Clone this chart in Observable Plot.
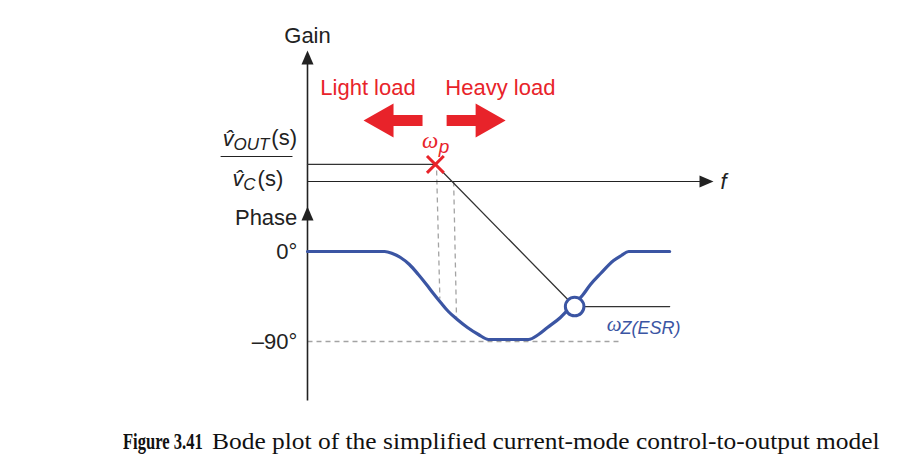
<!DOCTYPE html>
<html><head><meta charset="utf-8">
<script src="https://cdn.jsdelivr.net/npm/d3@7"></script>
<script src="https://cdn.jsdelivr.net/npm/@observablehq/plot@0.6"></script>
<style>
body{margin:0;background:#fff;}
#caption{position:relative;width:915px;height:58px;font-family:"Liberation Serif","Times New Roman",serif;font-size:24px;color:#111;}
#caption span{position:absolute;top:0;line-height:52px;white-space:nowrap;display:inline-block;transform-origin:0 50%;}
#fig{left:123px;font-weight:bold;transform:scaleX(0.69);}
#cap{left:212px;transform:scaleX(1.06);}
</style></head><body>
<div id="chart"></div>
<div id="caption"><span id="fig">Figure 3.41</span><span id="cap">Bode plot of the simplified current-mode control-to-output model</span></div>
<script>
// ---- data (x in decades of log frequency, phase in degrees, gain in dB) ----
const phaseLogF = [0, 1.90, 2.09, 2.29, 2.51, 2.73, 2.93, 3.10, 3.28, 3.47, 3.69, 3.94, 4.21, 4.46,
                   5.44, 5.69, 5.91, 6.23, 6.40, 6.58, 6.77, 6.97, 7.22, 7.54, 7.73, 7.91, 8.92];
const phaseDeg  = [0, 0, -2, -6, -13, -23, -33, -42, -51, -60, -68, -76, -83, -88,
                   -88, -83, -76, -66, -59, -52, -44, -33, -22, -9, -4, 0, 0];
const gainLogF = [0, 3.15, 6.58, 8.92];
const gainDb   = [8.4, 8.4, -61.6, -61.6];
const poleLogF = 3.15;            // omega_p
const zeroLogF = 6.58;            // omega_Z(ESR)
const dashLogF = [[3.18, 3.26], [3.60, 3.67]];
const dashGainDb = [5.4, 0];
const dashPhaseDeg = [-47, -66];
const tickValues = [0, -90];
const tickLabels = ["0°", "–90°"];

// ---- mapping of gain (dB) into the shared vertical units ----
const GAIN_ZERO = 70, UNITS_PER_DB = 2.03;
const g = db => GAIN_ZERO + db * UNITS_PER_DB;

const RED = "#e8232a", BLUE = "#3b55a3", GREY = "#a3a3a3", INK = "#222";

const phase = phaseLogF.map((x, i) => ({x, y: phaseDeg[i]}));
const gain = gainLogF.map((x, i) => ({x, y: g(gainDb[i])}));
const dashes = dashLogF.map((d, i) => ({x1: d[0], x2: d[1], y1: g(dashGainDb[i]), y2: dashPhaseDeg[i]}));
const ticks = tickValues.map((v, i) => ({y: v, t: tickLabels[i]}));

const blockArrow = {draw(c){c.moveTo(0,0);c.lineTo(17,30);c.lineTo(5.5,30);c.lineTo(5.5,59);c.lineTo(-5.5,59);c.lineTo(-5.5,30);c.lineTo(-17,30);c.closePath();}};
const axisHead = {draw(c){c.moveTo(0,0);c.lineTo(6,14);c.lineTo(-6,14);c.closePath();}};

const sans = "Liberation Sans, Arial, Helvetica, sans-serif";
const serif = "Liberation Serif, Times New Roman, serif";

const plot = Plot.plot({
  width: 915, height: 415,
  marginLeft: 307, marginRight: 202, marginTop: 50, marginBottom: 15,
  x: {domain: [0, 10], axis: null},
  y: {domain: [-149, 201], axis: null},
  style: {fontFamily: sans, background: "#fff", overflow: "visible"},
  marks: [
    // -90 dashed reference
    Plot.link([{x1: 0, x2: 7.71, y: -90}], {x1: "x1", x2: "x2", y1: "y", y2: "y", stroke: GREY, strokeWidth: 1.3, strokeDasharray: "5,4"}),
    // dashed projections
    Plot.link(dashes, {x1: "x1", x2: "x2", y1: "y1", y2: "y2", stroke: GREY, strokeWidth: 1.3, strokeDasharray: "5,4"}),
    // axes
    Plot.link([{x: 0, y1: -149, y2: 190}], {x1: "x", x2: "x", y1: "y1", y2: "y2", stroke: INK, strokeWidth: 1.6}),
    Plot.link([{x1: 0, x2: 9.7, y: g(0)}], {x1: "x1", x2: "x2", y1: "y", y2: "y", stroke: INK, strokeWidth: 1.2}),
    Plot.dot([{x: 0, y: 201}], {x: "x", y: "y", symbol: axisHead, fill: INK, stroke: "none"}),
    Plot.dot([{x: 0, y: 45}], {x: "x", y: "y", symbol: axisHead, fill: INK, stroke: "none"}),
    Plot.dot([{x: 10, y: g(0)}], {x: "x", y: "y", symbol: axisHead, rotate: 90, fill: INK, stroke: "none"}),
    // gain asymptote
    Plot.line(gain, {x: "x", y: "y", stroke: "#333", strokeWidth: 1.3}),
    // phase
    Plot.line(phase, {x: "x", y: "y", stroke: BLUE, strokeWidth: 3.2, curve: "monotone-x"}),
    // zero circle
    Plot.dot([{x: zeroLogF, y: g(gainDb[2])}], {x: "x", y: "y", r: 9.3, stroke: BLUE, strokeWidth: 3, fill: "#fff"}),
    // pole cross
    Plot.dot([{x: poleLogF, y: g(gainDb[1])}], {x: "x", y: "y", symbol: "times", r: 7.7, stroke: RED, strokeWidth: 3}),
    // load arrows
    Plot.dot([{x: 1.38, y: 131}], {x: "x", y: "y", symbol: blockArrow, rotate: -90, fill: RED, stroke: "none"}),
    Plot.dot([{x: 4.88, y: 131}], {x: "x", y: "y", symbol: blockArrow, rotate: 90, fill: RED, stroke: "none"}),
    // texts
    Plot.text([{x: 0, y: 216, t: "Gain"}], {x: "x", y: "y", text: "t", fontSize: 22, fill: INK}),
    Plot.text([{x: -0.25, y: 34, t: "Phase"}], {x: "x", y: "y", text: "t", fontSize: 22, fill: INK, textAnchor: "end"}),
    Plot.text(ticks, {x: () => -0.25, y: "y", text: "t", fontSize: 22, fill: INK, textAnchor: "end"}),
    Plot.text([{x: 10.17, y: g(0), t: "f"}], {x: "x", y: "y", text: "t", fontSize: 22, fontStyle: "italic", fill: INK, textAnchor: "start"}),
    Plot.text([{x: 1.49, y: 164, t: "Light load"}, {x: 4.75, y: 164, t: "Heavy load"}], {x: "x", y: "y", text: "t", fontSize: 22, fill: RED}),
    Plot.text([{x: 3.02, y: 111, t: "ω"}], {x: "x", y: "y", text: "t", fontSize: 23, fontStyle: "italic", fontFamily: serif, fill: RED}),
    Plot.text([{x: 3.36, y: 105, t: "p"}], {x: "x", y: "y", text: "t", fontSize: 19, fontStyle: "italic", fill: RED}),
    Plot.text([{x: 7.37, y: -73, t: "ω"}], {x: "x", y: "y", text: "t", fontSize: 21, fontStyle: "italic", fontFamily: serif, fill: BLUE, textAnchor: "start"}),
    Plot.text([{x: 7.71, y: -77, t: "Z(ESR)"}], {x: "x", y: "y", text: "t", fontSize: 18, fontStyle: "italic", fill: BLUE, textAnchor: "start"}),
    // transfer function label
    Plot.text([{x: -2.09, y: 113, t: "v\u0302"}, {x: -1.85, y: 73, t: "v\u0302"}], {x: "x", y: "y", text: "t", fontSize: 22, fontStyle: "italic", fill: INK, textAnchor: "start"}),
    Plot.text([{x: -1.82, y: 107, t: "OUT"}, {x: -1.58, y: 67, t: "C"}], {x: "x", y: "y", text: "t", fontSize: 17, fontStyle: "italic", fill: INK, textAnchor: "start"}),
    Plot.text([{x: -0.89, y: 114, t: "(s)"}, {x: -1.23, y: 73, t: "(s)"}], {x: "x", y: "y", text: "t", fontSize: 22, fill: INK, textAnchor: "start"}),
    Plot.link([{x1: -2.14, x2: -0.37, y: 95}], {x1: "x1", x2: "x2", y1: "y", y2: "y", stroke: INK, strokeWidth: 1.2})
  ]
});
document.getElementById("chart").appendChild(plot);
</script>
</body></html>
